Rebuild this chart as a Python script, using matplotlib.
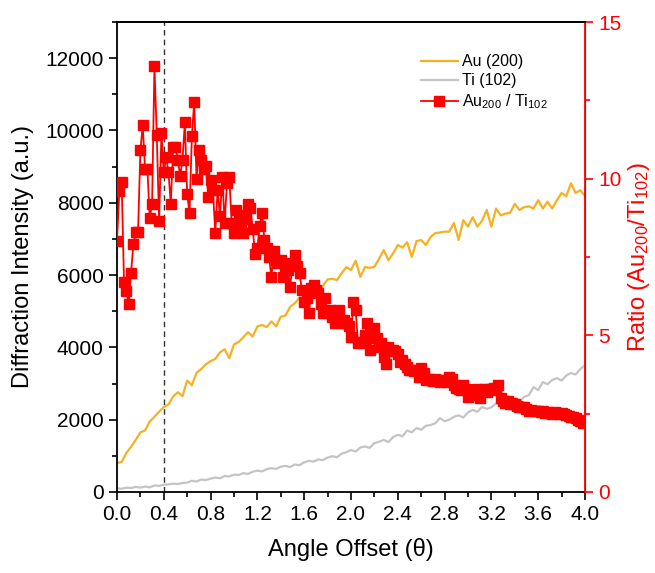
import numpy as np
import matplotlib
matplotlib.use("Agg")
import matplotlib.pyplot as plt
from matplotlib.ticker import MultipleLocator

plt.rcParams['font.family'] = ['Liberation Sans', 'DejaVu Sans']
plt.rcParams['mathtext.fontset'] = 'custom'
plt.rcParams['mathtext.rm'] = 'Liberation Sans'
plt.rcParams['mathtext.it'] = 'Liberation Sans'

# Au (200) intensity, theta step 0.04
au200 = [800, 830, 1080, 1250, 1440, 1650, 1700, 1950, 2080, 2220,
         2350, 2420, 2640, 2760, 2650, 3080, 2950, 3300, 3400, 3530,
         3620, 3680, 3860, 3950, 3700, 4080, 4150, 4280, 4420, 4300,
         4580, 4620, 4560, 4720, 4580, 4850, 4880, 5120, 5220, 5380,
         5240, 5420, 5550, 5520, 5700, 5880, 5900, 5860, 6050, 6220,
         6140, 6400, 5950, 6220, 6200, 6230, 6450, 6690, 6410, 6600,
         6830, 6760, 6910, 6500, 6940, 6970, 6830, 7050, 7160, 7180,
         7200, 7200, 7440, 6970, 7520, 7340, 7600, 7340, 7500, 7800,
         7340, 7840, 7650, 7700, 7720, 7970, 7800, 7880, 7900, 7840,
         8070, 7840, 8030, 7840, 8070, 8270, 8180, 8540, 8270, 8350,
         8180]

# Ti (102) intensity, theta step 0.04
ti102 = [100, 90, 120, 110, 140, 120, 150, 130, 180, 170,
         200, 210, 230, 220, 250, 260, 310, 290, 340, 330,
         370, 400, 380, 440, 430, 480, 470, 520, 500, 560,
         590, 570, 630, 660, 640, 700, 720, 690, 760, 740,
         820, 860, 840, 900, 880, 950, 990, 960, 1060, 1100,
         1160, 1120, 1230, 1260, 1220, 1350, 1390, 1440, 1380, 1520,
         1580, 1540, 1700, 1650, 1770, 1720, 1830, 1850, 1900, 2040,
         1960, 2000, 2080, 2120, 2060, 2200, 2270, 2220, 2350, 2300,
         2340, 2450, 2400, 2540, 2270, 2560, 2500, 2630, 2680, 2900,
         2820, 3040, 2980, 3100, 3150, 3080, 3220, 3290, 3250, 3400,
         3510]

# Au200/Ti102 ratio, theta step 0.02
ratio = [8.0, 9.6, 9.9, 6.7, 6.4, 6.0, 7.0, 7.9, 8.3, 8.3,
         10.9, 11.7, 10.3, 10.3, 8.75, 9.2, 13.6, 11.4, 8.65, 11.45,
         10.2, 10.7, 10.2, 9.2, 11.0, 11.0, 10.6, 10.1, 10.6, 11.8,
         9.5, 8.9, 11.35, 12.45, 10.0, 10.9, 10.6, 10.3, 10.4, 9.4,
         9.95, 9.64, 8.27, 9.64, 8.8, 10.05, 8.6, 9.85, 10.05, 8.6,
         8.27, 9.0, 8.85, 8.5, 8.27, 8.7, 9.2, 9.07, 8.4, 7.6,
         7.8, 8.5, 8.9, 8.04, 7.8, 7.5, 6.86, 7.7, 7.4, 7.3,
         7.4, 6.86, 7.1, 7.1, 6.55, 7.3, 7.56, 7.2, 7.0, 6.45,
         6.07, 6.2, 5.7, 6.5, 6.6, 6.45, 6.35, 6.0, 5.7, 6.2,
         5.7, 5.8, 5.6, 5.4, 5.6, 5.8, 5.4, 5.5, 5.4, 5.3,
         4.95, 6.07, 5.8, 4.75, 4.8, 4.75, 5.0, 5.4, 4.53, 4.9,
         5.23, 4.9, 4.63, 4.75, 4.3, 4.1, 4.63, 4.5, 4.53, 4.5,
         4.4, 4.15, 4.2, 4.1, 4.0, 3.9, 3.9, 3.85, 3.9, 3.67,
         3.95, 3.8, 3.57, 3.6, 3.57, 3.55, 3.6, 3.57, 3.5, 3.57,
         3.55, 3.5, 3.67, 3.6, 3.4, 3.32, 3.3, 3.25, 3.4, 3.3,
         3.03, 3.1, 3.15, 3.2, 3.3, 3.0, 3.25, 3.3, 3.2, 3.3,
         3.25, 3.32, 3.3, 3.4, 3.0, 2.9, 2.84, 2.9, 2.8, 2.85,
         2.8, 2.75, 2.7, 2.72, 2.7, 2.65, 2.6, 2.62, 2.58, 2.6,
         2.58, 2.55, 2.58, 2.52, 2.55, 2.52, 2.5, 2.55, 2.52, 2.48,
         2.52, 2.5, 2.45, 2.42, 2.4, 2.38, 2.35, 2.3, 2.28, 2.2,
         2.25]

theta_int = np.linspace(0, 4.0, len(au200))
theta_ratio = np.linspace(0, 4.0, len(ratio))

fig = plt.figure(figsize=(6.55, 5.73), dpi=100)
ax = fig.add_axes([0.1786, 0.1414, 0.7145, 0.8202])
ax2 = ax.twinx()

l1, = ax.plot(theta_int, au200, color='#F5B121', lw=1.6, label='Au (200)')
l2, = ax.plot(theta_int, ti102, color='#C4C4C4', lw=1.6, label='Ti (102)')
ax.axvline(0.4, color='#333333', ls=(0, (4, 3)), lw=1.0)
l3, = ax2.plot(theta_ratio, ratio, color='#FF0000', lw=1.3, marker='s', ms=7,
               label='Au$_{200}$ / Ti$_{102}$')

ax.set_xlim(0, 4.0)
ax.set_ylim(0, 13000)
ax2.set_ylim(0, 15)

ax.xaxis.set_major_locator(MultipleLocator(0.4))
ax.xaxis.set_minor_locator(MultipleLocator(0.2))
ax.yaxis.set_major_locator(MultipleLocator(2000))
ax.yaxis.set_minor_locator(MultipleLocator(1000))
ax2.yaxis.set_major_locator(MultipleLocator(5))
ax2.yaxis.set_minor_locator(MultipleLocator(2.5))
ax.xaxis.set_major_formatter(matplotlib.ticker.FormatStrFormatter('%.1f'))

ax.tick_params(axis='both', which='major', direction='out', length=6, width=1.2, labelsize=15, colors='black')
ax.tick_params(axis='both', which='minor', direction='out', length=3.5, width=1.2)
ax2.tick_params(axis='y', which='major', direction='out', length=6, width=1.2, labelsize=15, colors='#FF0000')
ax2.tick_params(axis='y', which='minor', direction='out', length=3.5, width=1.2, colors='#FF0000')

for sp in ['left', 'bottom', 'top']:
    ax.spines[sp].set_linewidth(1.3)
ax2.spines['right'].set_color('#FF0000')
ax2.spines['right'].set_linewidth(1.3)
ax2.spines['left'].set_visible(False)
ax2.spines['top'].set_linewidth(1.3)
ax2.spines['bottom'].set_visible(False)

ax.set_xlabel('Angle Offset (θ)', fontsize=17, labelpad=10)
ax.set_ylabel('Diffraction Intensity (a.u.)', fontsize=17, labelpad=8)
ax2.set_ylabel('Ratio (Au$_{200}$/Ti$_{102}$)', fontsize=17, color='#FF0000', labelpad=3)

leg = ax2.legend(handles=[l1, l2, l3], loc='upper right', bbox_to_anchor=(0.935, 0.945),
                 frameon=False, fontsize=11.5, handlelength=2.3, handletextpad=0.3,
                 labelspacing=0.25, borderaxespad=0)

fig.savefig('out.png', dpi=100)
